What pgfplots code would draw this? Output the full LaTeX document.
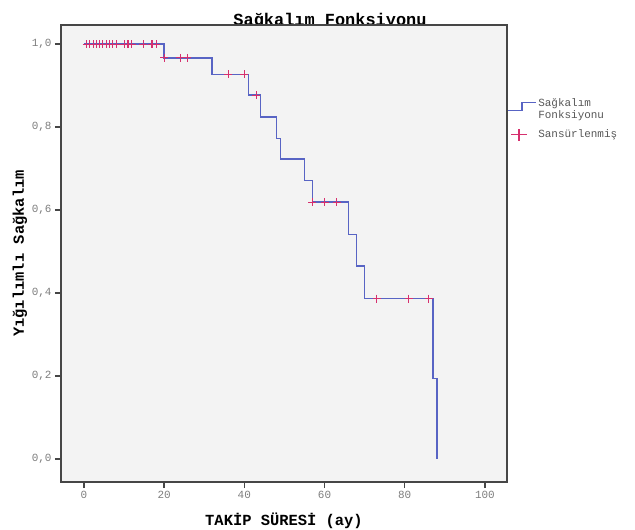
\documentclass[border=0pt]{standalone}
\usepackage{fontspec}
\setmainfont{Liberation Mono}
\usepackage{pgfplots}
\pgfplotsset{compat=1.18}
\definecolor{kmblue}{RGB}{88,100,196}
\definecolor{cens}{RGB}{214,48,110}
\definecolor{panel}{RGB}{243,243,243}
\definecolor{framec}{RGB}{70,70,70}
\definecolor{tickc}{RGB}{125,125,125}
\begin{document}
\begin{tikzpicture}
\useasboundingbox (-61bp,-48bp) rectangle (574bp,482bp);
% title sits behind the panel so the frame cuts its descenders
\node[anchor=base, font=\fontsize{17}{17}\selectfont\bfseries] at (269bp,456bp) {Sağkalım Fonksiyonu};
\begin{axis}[
  at={(0,0)}, anchor=south west,
  scale only axis, width=446bp, height=457bp,
  xmin=-5.7, xmax=105.5, ymin=-0.055, ymax=1.046,
  axis background/.style={fill=panel},
  axis line style={framec, line width=1.2bp},
  tick style={framec, line width=1.4bp},
  tick align=outside, major tick length=6bp,
  xtick pos=left, ytick pos=left,
  xtick={0,20,40,60,80,100},
  ytick={0,0.2,0.4,0.6,0.8,1},
  /pgf/number format/assume math mode=true,
  yticklabel style={/pgf/number format/.cd, fixed, fixed zerofill, precision=1, use comma},
  tick label style={font=\fontsize{11}{11}\selectfont, text=tickc},
  xlabel={TAKİP SÜRESİ (ay)},
  ylabel={Yığılımlı Sağkalım},
  label style={font=\fontsize{15.5}{16}\selectfont\bfseries},
  xlabel style={at={(axis description cs:0.5,-0.085)}, anchor=center},
  ylabel style={at={(axis description cs:-0.092,0.5)}, anchor=center},
  legend style={at={(rel axis cs:1,0.843)}, anchor=north west, draw=none, fill=none,
    inner sep=0pt, font=\fontsize{11}{12}\selectfont, text=tickc!70!black,
    row sep=12bp, nodes={inner sep=1.5bp}},
  legend cell align=left,
]
\addplot[const plot, kmblue, line width=1.6bp,
  legend image code/.code={\draw[kmblue, line width=1.6bp] (0bp,-4bp) -- (14bp,-4bp) -- (14bp,4bp) -- (28bp,4bp);}]
  coordinates {
  (0,1.0)(20,0.967)(32,0.927)(41,0.877)(44,0.825)(48,0.773)(49,0.723)
  (55,0.671)(57,0.619)(66,0.541)(68,0.465)(70,0.387)(87,0.194)(88,0.0)};
\addlegendentry{\begin{tabular}{@{}l@{}}Sağkalım\\Fonksiyonu\end{tabular}}
\addplot[only marks, mark=+, mark size=4bp, cens, line width=1.1bp,
  legend image code/.code={\draw[cens, line width=1.2bp] (3bp,0bp) -- (19bp,0bp) (11bp,-6bp) -- (11bp,6bp); \path (28bp,0bp);}]
  coordinates {
  (0.7,1)(1.5,1)(2.3,1)(3.1,1)(3.9,1)(4.7,1)(5.6,1)(6.4,1)(7.2,1)(8.1,1)
  (10.1,1)(11,1)(11.9,1)(14.8,1)(17,1)(18,1)
  (20,0.967)(24,0.967)(25.8,0.967)
  (36,0.927)(40,0.927)
  (43,0.877)
  (57,0.619)(60,0.619)(63,0.619)
  (73,0.387)(81,0.387)(86,0.387)};
\addlegendentry{Sansürlenmiş}
\end{axis}
\end{tikzpicture}
\end{document}
